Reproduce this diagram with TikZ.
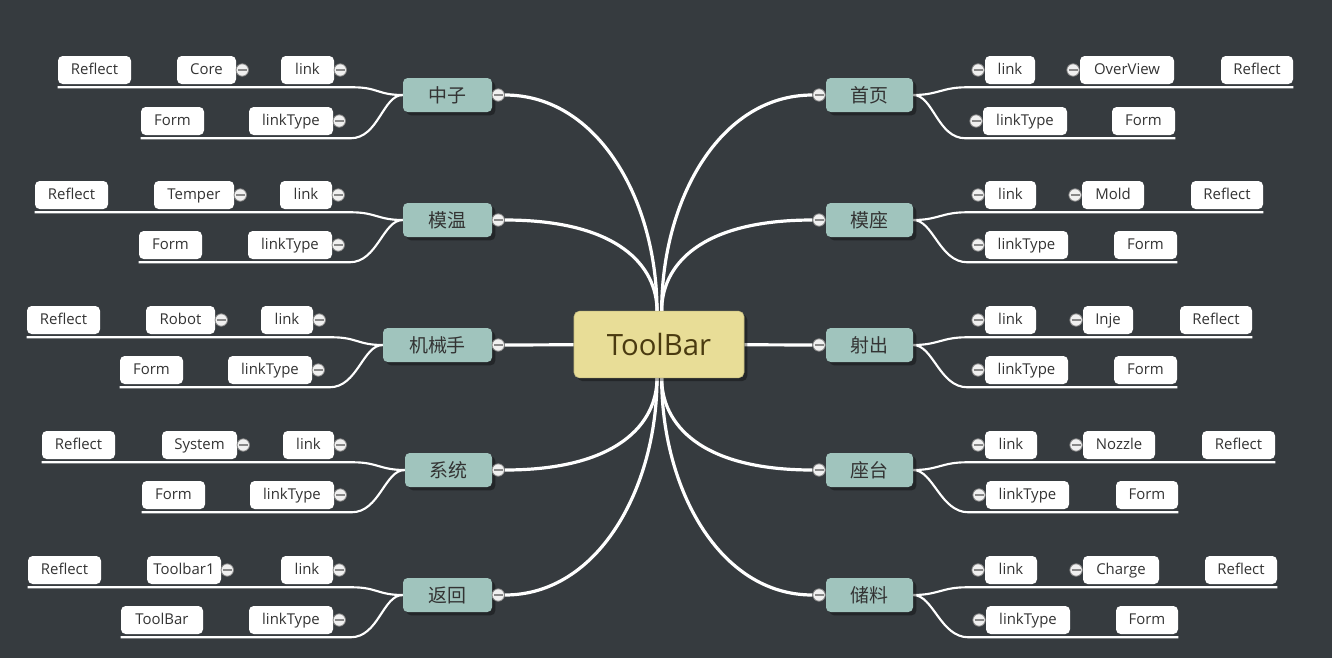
\documentclass[tikz,border=0pt]{standalone}
\usepackage{fontspec}
\setmainfont{Open Sans}
\newfontfamily\cjkfont{Noto Sans CJK SC}
\usetikzlibrary{shadows,calc}
\definecolor{bgc}{HTML}{363B3F}
\definecolor{cteal}{HTML}{A0C4BD}
\definecolor{cyel}{HTML}{E8DD97}
\definecolor{ctxt}{HTML}{333333}
\definecolor{cbrn}{HTML}{4A3A10}
\definecolor{cbtn}{HTML}{F0F0F0}
\definecolor{cbtnd}{HTML}{888888}
\pgfdeclarelayer{back}\pgfdeclarelayer{lines}
\pgfsetlayers{back,lines,main}
\tikzset{
  leaf/.style={fill=white, rounded corners=3.5pt, inner sep=0pt, minimum height=21pt, text height=0.93em, text depth=0.2em, text=ctxt, font=\fontsize{11.2}{13}\selectfont},
  branch/.style={fill=cteal, rounded corners=3.5pt, inner sep=0pt, minimum height=25.5pt, text=ctxt, font=\cjkfont\fontsize{14.2}{16}\selectfont, drop shadow={shadow xshift=2.5pt, shadow yshift=-2.5pt, fill=black, opacity=0.35}},
  rootbox/.style={fill=cyel, draw=cyel!85!black, line width=0.4pt, rounded corners=4pt, inner sep=0pt, minimum width=127.5pt, minimum height=50pt, text=cbrn, font=\fontsize{22}{26}\selectfont, drop shadow={shadow xshift=2.5pt, shadow yshift=-2.5pt, fill=black, opacity=0.35}},
  btn/.style={circle, fill=cbtn, draw=cbtnd, line width=0.6pt, minimum size=9.3pt, inner sep=0pt, path picture={\draw[cbtnd, line width=1.1pt] ([xshift=1.3pt]path picture bounding box.west) -- ([xshift=-1.3pt]path picture bounding box.east);}},
  mainline/.style={white, line width=2.4pt},
  subline/.style={white, line width=1.6pt},
}
\newcommand\LeafBox[5]{\node[leaf, minimum width={(#3-#2)*0.75pt}] (#1) at ({(#2+#3)/2},#4) {#5};}
\newcommand\BrNode[5]{\node[branch, minimum width={(#3-#2)*0.75pt}] (#1) at ({(#2+#3)/2},#4) {#5};}
\newcommand\BtnR[1]{\node[btn] (#1-b) at ([xshift=4.5pt]#1.east) {};}
\newcommand\BtnL[1]{\node[btn] (#1-b) at ([xshift=-5pt]#1.west) {};}
\newcommand\LeftSub[5]{%
  \draw[subline] (#1.west) .. controls +(-25,0) and +(25,0) .. ([xshift=14pt,yshift=-2.25pt]#2.south east) -- ([yshift=-2.25pt]#3.south west);
  \draw[subline] (#1.west) .. controls +(-20,0) and +(28,0) .. ([xshift=13pt,yshift=-2.25pt]#4.south east) -- ([yshift=-2.25pt]#5.south west);}
\newcommand\RightSub[5]{%
  \draw[subline] (#1.east) .. controls +(25,0) and +(-25,0) .. ([xshift=-13.5pt,yshift=-2.25pt]#2.south west) -- ([yshift=-2.25pt]#3.south east);
  \draw[subline] (#1.east) .. controls +(20,0) and +(-28,0) .. ([xshift=-13pt,yshift=-2.25pt]#4.south west) -- ([yshift=-2.25pt]#5.south east);}
\begin{document}
\begin{tikzpicture}[x=0.75pt,y=-0.75pt]
\useasboundingbox (0,0) rectangle (1332,658);
\begin{pgfonlayer}{back}
\fill[bgc] (0,0) rectangle (1332,658);
\end{pgfonlayer}
% root
\node[rootbox] (tb) at (659,344.5) {ToolBar};
% branches left
\BrNode{zz}{403}{492}{95}{中子}
\BrNode{mw}{403}{492}{220}{模温}
\BrNode{jx}{383}{492}{345}{机械手}
\BrNode{xt}{405}{492}{470}{系统}
\BrNode{fh}{403}{492}{595}{返回}
\BtnR{zz}\BtnR{mw}\BtnR{jx}\BtnR{xt}\BtnR{fh}
% branches right
\BrNode{sy}{826}{913}{95}{首页}
\BrNode{mz}{826}{913}{220}{模座}
\BrNode{sc}{826}{913}{345}{射出}
\BrNode{zt}{826}{913}{470}{座台}
\BrNode{cl}{826}{913}{595}{储料}
\BtnL{sy}\BtnL{mz}\BtnL{sc}\BtnL{zt}\BtnL{cl}
% leaves left
\LeafBox{zz1}{281}{334}{70}{link}
\LeafBox{zz2}{177}{236}{70}{Core}
\LeafBox{zz3}{58}{131}{70}{Reflect}
\LeafBox{zz4}{249}{333}{121}{linkType}
\LeafBox{zz5}{141}{204}{121}{Form}
\LeafBox{mw1}{280}{332}{195}{link}
\LeafBox{mw2}{154}{234}{195}{Temper}
\LeafBox{mw3}{35}{108}{195}{Reflect}
\LeafBox{mw4}{248}{332}{245}{linkType}
\LeafBox{mw5}{139}{202}{245}{Form}
\LeafBox{jx1}{261}{313}{320}{link}
\LeafBox{jx2}{146}{215}{320}{Robot}
\LeafBox{jx3}{27}{100}{320}{Reflect}
\LeafBox{jx4}{228}{312}{370}{linkType}
\LeafBox{jx5}{120}{183}{370}{Form}
\LeafBox{xt1}{283}{334}{445}{link}
\LeafBox{xt2}{162}{237}{445}{System}
\LeafBox{xt3}{42}{115}{445}{Reflect}
\LeafBox{xt4}{250}{334}{495}{linkType}
\LeafBox{xt5}{142}{205}{495}{Form}
\LeafBox{fh1}{281}{333}{570}{link}
\LeafBox{fh2}{147}{221}{570}{Toolbar1}
\LeafBox{fh3}{28}{101}{570}{Reflect}
\LeafBox{fh4}{249}{333}{620}{linkType}
\LeafBox{fh5}{121}{203}{620}{ToolBar}
\foreach \g in {zz,mw,jx,xt,fh}{\BtnR{\g1}\BtnR{\g2}\BtnR{\g4}}
% leaves right
\LeafBox{sy1}{985}{1035}{70}{link}
\LeafBox{sy2}{1080}{1174}{70}{OverView}
\LeafBox{sy3}{1221}{1293}{70}{Reflect}
\LeafBox{sy4}{983}{1067}{121}{linkType}
\LeafBox{sy5}{1112}{1175}{121}{Form}
\LeafBox{mz1}{985}{1036}{195}{link}
\LeafBox{mz2}{1082}{1144}{195}{Mold}
\LeafBox{mz3}{1191}{1263}{195}{Reflect}
\LeafBox{mz4}{985}{1068}{245}{linkType}
\LeafBox{mz5}{1114}{1177}{245}{Form}
\LeafBox{sc1}{985}{1036}{320}{link}
\LeafBox{sc2}{1083}{1133}{320}{Inje}
\LeafBox{sc3}{1180}{1252}{320}{Reflect}
\LeafBox{sc4}{985}{1068}{370}{linkType}
\LeafBox{sc5}{1114}{1177}{370}{Form}
\LeafBox{zt1}{985}{1037}{445}{link}
\LeafBox{zt2}{1083}{1155}{445}{Nozzle}
\LeafBox{zt3}{1202}{1275}{445}{Reflect}
\LeafBox{zt4}{986}{1069}{495}{linkType}
\LeafBox{zt5}{1116}{1178}{495}{Form}
\LeafBox{cl1}{985}{1037}{570}{link}
\LeafBox{cl2}{1083}{1159}{570}{Charge}
\LeafBox{cl3}{1205}{1277}{570}{Reflect}
\LeafBox{cl4}{986}{1070}{620}{linkType}
\LeafBox{cl5}{1116}{1178}{620}{Form}
\foreach \g in {sy,mz,sc,zt,cl}{\BtnL{\g1}\BtnL{\g2}\BtnL{\g4}}
% connectors
\begin{pgfonlayer}{lines}
\coordinate (tn1) at ([xshift=-1.5pt]tb.north);
\coordinate (tn2) at ([xshift=2pt]tb.north);
\coordinate (ts1) at ([xshift=-1.5pt]tb.south);
\coordinate (ts2) at ([xshift=2pt]tb.south);
\draw[mainline] (zz-b) .. controls +(100,0) and +(0,-110) .. (tn1);
\draw[mainline] (mw-b) .. controls +(120,0) and +(0,-45) .. (tn1);
\draw[mainline] (jx-b) -- (tb);
\draw[mainline] (xt-b) .. controls +(120,0) and +(0,45) .. (ts1);
\draw[mainline] (fh-b) .. controls +(100,0) and +(0,110) .. (ts1);
\draw[mainline] (sy-b) .. controls +(-100,0) and +(0,-110) .. (tn2);
\draw[mainline] (mz-b) .. controls +(-120,0) and +(0,-45) .. (tn2);
\draw[mainline] (sc-b) -- (tb);
\draw[mainline] (zt-b) .. controls +(-120,0) and +(0,45) .. (ts2);
\draw[mainline] (cl-b) .. controls +(-100,0) and +(0,110) .. (ts2);
\LeftSub{zz}{zz1}{zz3}{zz4}{zz5}
\LeftSub{mw}{mw1}{mw3}{mw4}{mw5}
\LeftSub{jx}{jx1}{jx3}{jx4}{jx5}
\LeftSub{xt}{xt1}{xt3}{xt4}{xt5}
\LeftSub{fh}{fh1}{fh3}{fh4}{fh5}
\RightSub{sy}{sy1}{sy3}{sy4}{sy5}
\RightSub{mz}{mz1}{mz3}{mz4}{mz5}
\RightSub{sc}{sc1}{sc3}{sc4}{sc5}
\RightSub{zt}{zt1}{zt3}{zt4}{zt5}
\RightSub{cl}{cl1}{cl3}{cl4}{cl5}
\end{pgfonlayer}
\end{tikzpicture}
\end{document}
